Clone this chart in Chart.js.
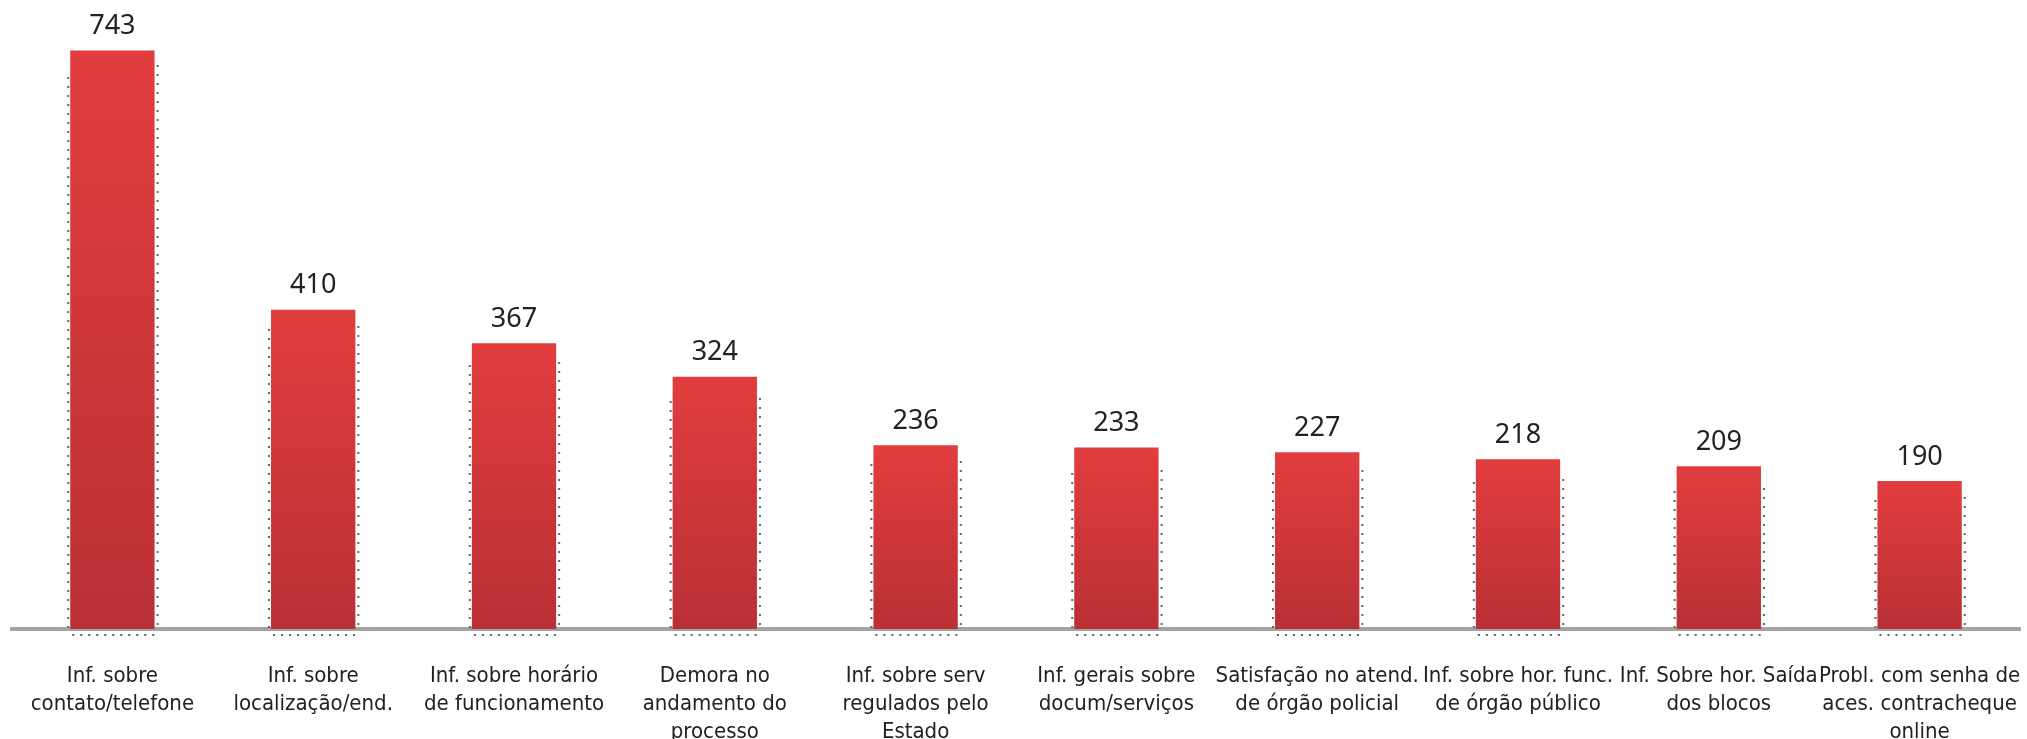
<!DOCTYPE html>
<html lang="pt">
<head>
  <meta charset="UTF-8">
  <title>Assuntos mais demandados</title>
  <script src="https://cdn.jsdelivr.net/npm/chart.js"></script>
  <style>
    html, body { margin: 0; padding: 0; background: #fff; }
    #wrap { width: 2027px; height: 739px; }
  </style>
</head>
<body>
  <div id="wrap"><canvas id="graphCanvas"></canvas></div>

  <script>
    const categorias = [
      ['Inf. sobre', 'contato/telefone'],
      ['Inf. sobre', 'localização/end.'],
      ['Inf. sobre horário', 'de funcionamento'],
      ['Demora no', 'andamento do', 'processo'],
      ['Inf. sobre serv', 'regulados pelo', 'Estado'],
      ['Inf. gerais sobre', 'docum/serviços'],
      ['Satisfação no atend.', 'de órgão policial'],
      ['Inf. sobre hor. func.', 'de órgão público'],
      ['Inf. Sobre hor. Saída', 'dos blocos'],
      ['Probl. com senha de', 'aces. contracheque', 'online']
    ];
    const valores = [743, 410, 367, 324, 236, 233, 227, 218, 209, 190];

    const fonte = '"Liberation Sans Narrow", "DejaVu Sans Condensed", "Open Sans", sans-serif';

    // rótulos de valor acima das barras + contorno pontilhado
    const rotulosPlugin = {
      id: 'rotulos',
      afterDatasetsDraw(chart) {
        const ctx = chart.ctx;
        const meta = chart.getDatasetMeta(0);
        ctx.save();
        ctx.fillStyle = '#666';
        meta.data.forEach((bar) => {
          const esq = bar.x - bar.width / 2 - 2;
          const dir = bar.x + bar.width / 2 + 3;
          for (let y = bar.base - 3; y > bar.y + 18; y -= 9) {
            ctx.fillRect(esq - 1, y, 2, 2);
          }
          for (let y = bar.base - 6; y > bar.y + 14; y -= 9) {
            ctx.fillRect(dir - 1, y, 2, 2);
          }
          for (let x = esq + 4; x < dir - 2; x += 8) {
            ctx.fillRect(x, bar.base + 5, 2, 2);
          }
        });
        ctx.font = '27px "Noto Sans", sans-serif';
        ctx.fillStyle = '#222';
        ctx.textAlign = 'center';
        ctx.textBaseline = 'middle';
        meta.data.forEach((bar, i) => {
          ctx.fillText(valores[i], bar.x, bar.y - 24);
        });
        ctx.restore();
      }
    };

    function gradiente(context) {
      const area = context.chart.chartArea;
      if (!area) return '#d6393b';
      const y0 = context.chart.scales.y.getPixelForValue(0);
      const y1 = context.chart.scales.y.getPixelForValue(valores[context.dataIndex]);
      const g = context.chart.ctx.createLinearGradient(0, y1, 0, y0);
      g.addColorStop(0, '#e23d3e');
      g.addColorStop(1, '#b93035');
      return g;
    }

    new Chart(document.getElementById('graphCanvas'), {
      type: 'bar',
      data: {
        labels: categorias,
        datasets: [{
          data: valores,
          backgroundColor: gradiente,
          barPercentage: 0.42,
          categoryPercentage: 1
        }]
      },
      options: {
        responsive: true,
        maintainAspectRatio: false,
        animation: false,
        layout: { padding: { top: 6, left: 12, right: 7, bottom: 0 } },
        plugins: { legend: { display: false }, tooltip: { enabled: false } },
        scales: {
          y: { display: false, min: 0, max: 800 },
          x: {
            grid: { display: false, drawTicks: false },
            border: { color: '#a3a3a3', width: 4 },
            afterFit(scale) {
              scale.height = 110;
              scale.paddingLeft = 0;
              scale.paddingRight = 0;
            },
            ticks: {
              autoSkip: false,
              maxRotation: 0,
              padding: 33,
              color: '#222',
              font: { family: fonte, size: 22, lineHeight: 1.27 }
            }
          }
        }
      },
      plugins: [rotulosPlugin]
    });
  </script>
</body>
</html>
